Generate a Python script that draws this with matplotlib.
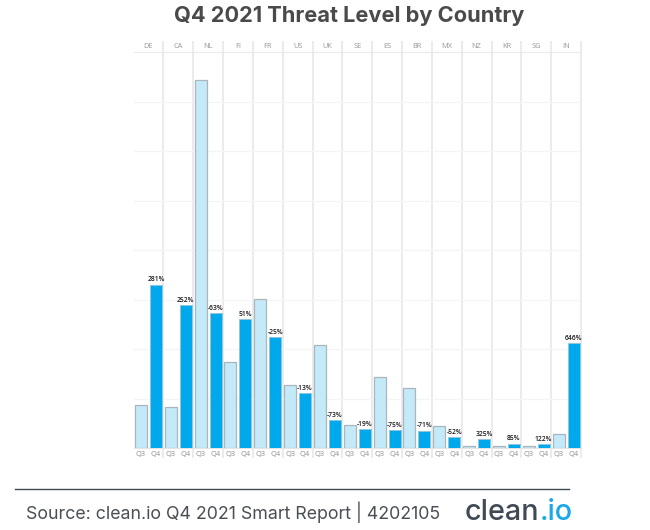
import matplotlib.pyplot as plt
import numpy as np
import pandas as pd

W, H = 650, 530

countries = ["DE", "CA", "NL", "FI", "FR", "US", "UK", "SE", "ES", "BR", "MX", "NZ", "KR", "SG", "IN"]
df = pd.DataFrame(
    {
        "q3": [43, 41, 372, 87, 150.5, 64, 104.5, 23, 72, 61, 22, 2.5, 2.5, 2, 14],
        "q4": [165, 144, 136, 130, 112, 55.5, 28, 18.7, 18, 17.5, 11, 8.8, 4.5, 3.8, 105.8],
        "change": ["281%", "252%", "-63%", "51%", "-25%", "-13%", "-73%", "-19%", "-75%", "-71%",
                   "-52%", "325%", "85%", "122%", "646%"],
    },
    index=countries,
)

fig = plt.figure(figsize=(W / 100, H / 100), dpi=100)
ax = fig.add_axes([133.5 / W, 1 - 448 / H, (581 - 133.5) / W, (448 - 52) / H])

x = np.arange(len(df)) * 2
ax.bar(x + 0.5, df["q3"], width=0.8, color="#c4eafa", edgecolor="#aab6bb", linewidth=0.9, zorder=3)
ax.bar(x + 1.5, df["q4"], width=0.8, color="#00a8ec", edgecolor="#8fc6de", linewidth=0.7, zorder=3)

ax.set_xlim(0, 30)
ax.set_ylim(0, 400)
for s in ax.spines.values():
    s.set_visible(False)

# horizontal grid, faint
ax.set_yticks(np.arange(50, 400, 50))
ax.tick_params(axis="y", length=0, labelleft=False)
ax.grid(axis="y", color="#f5f5f5", linewidth=0.9, zorder=0)
ax.plot([0, 30], [400, 400], color="#ececec", linewidth=0.9, clip_on=False, zorder=1)
ax.plot([0, 30], [0, 0], color="#e4e4e4", linewidth=0.8, clip_on=False, zorder=1)

# group separators run past the plot area
ax.vlines(np.arange(2, 31, 2), -10, 411, color="#e6e6e6", linewidth=1.1, clip_on=False, zorder=1)

ticks = np.arange(30) + 0.5
ax.set_xticks(ticks)
ax.set_xticklabels(["Q3", "Q4"] * len(df), fontsize=5.3, color="#8f8f8f", family="Open Sans")
ax.tick_params(axis="x", length=0, pad=2.5)

for i, name in enumerate(df.index):
    ax.text(2 * i + 1, 405.5, name, ha="center", va="center", fontsize=5.3, color="#969696", family="Open Sans")
    ax.text(2 * i + 1.5, df["q4"].iloc[i] + 1.5, df["change"].iloc[i], ha="center", va="bottom",
            fontsize=4.9, color="#1a1a1a", family="Open Sans", fontweight="semibold", zorder=4)

fig.text(349.5 / W, 1 - 16 / H, "Q4 2021 Threat Level by Country", ha="center", va="center",
         fontsize=15.7, fontweight="bold", color="#4a4a4a", family="Inter")

# footer
fig.add_artist(plt.Line2D([15 / W, 569 / W], [1 - 489 / H, 1 - 489 / H], color="#3f4a54", linewidth=1))
fig.text(26 / W, 1 - 512 / H, "Source: clean.io Q4 2021 Smart Report | 4202105", ha="left", va="center",
         fontsize=12.8, color="#4a4f55", family="Inter")
logo = fig.text(465 / W, 1 - 512.5 / H, "clean", ha="left", va="center", fontsize=20.7, fontweight="medium",
                color="#3f4a54", family="Inter")
fig.canvas.draw()
box = logo.get_window_extent()
fig.text(box.x1 / W, 1 - 512.5 / H, ".io", ha="left", va="center", fontsize=20.7, fontweight="medium",
         color="#1ba8e8", family="Inter")

fig.savefig("out.png", dpi=100)
